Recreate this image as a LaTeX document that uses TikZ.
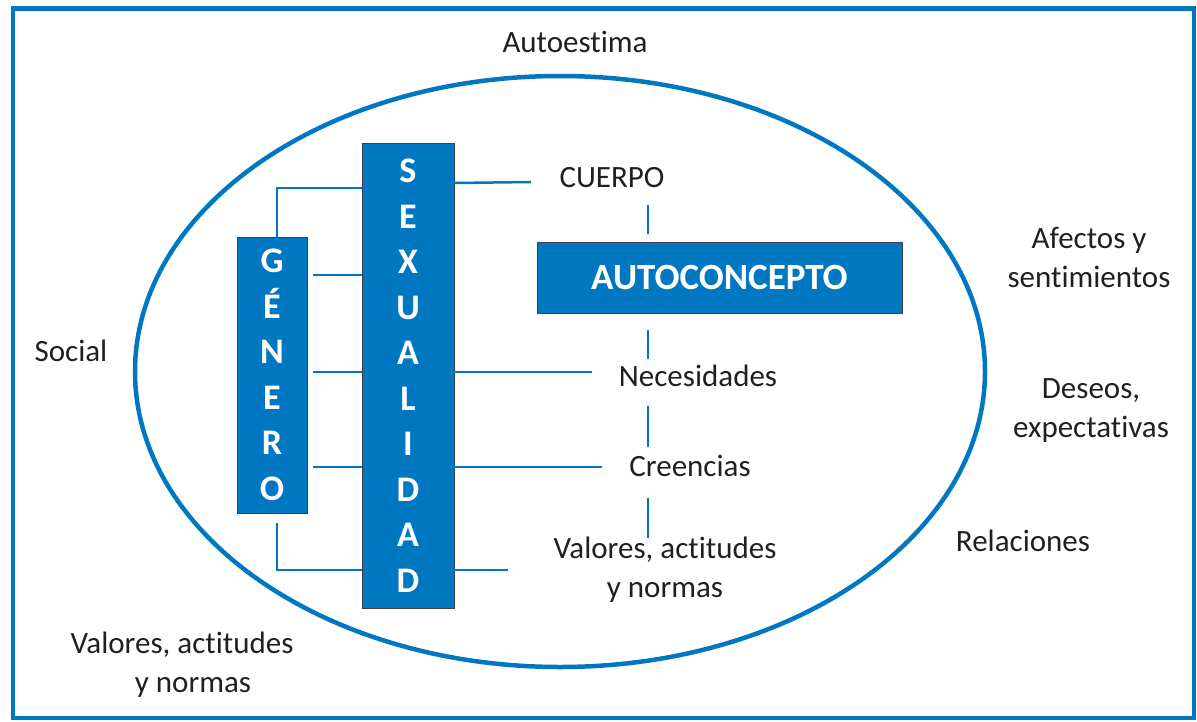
\documentclass[tikz,border=0pt]{standalone}
\usepackage{fontspec}
\setmainfont{Carlito}[Ligatures=NoCommon]
\usetikzlibrary{calc}
\definecolor{mblue}{RGB}{0,120,193}
\definecolor{ink}{RGB}{35,31,32}
\begin{document}
\begin{tikzpicture}[x=1pt,y=-1pt,
  conn/.style={draw=mblue,line width=2.5pt},
  vbox/.style={fill=mblue,draw=black!75,line width=0.8pt,inner sep=0pt,outer sep=0pt,text=white,align=center,font=\fontsize{36}{45.5}\selectfont\bfseries},
  lbl/.style={text=ink,font=\fontsize{31}{39}\selectfont,inner sep=0pt,align=center,anchor=base},
]
\useasboundingbox (0,0) rectangle (1197,721);
% frame and ellipse
\draw[mblue,line width=4.5pt] (13,8.5) rectangle (1194,718);
\draw[mblue,line width=4.5pt] (560,371.5) ellipse [x radius=425pt, y radius=295.5pt];

% boxes
\node[vbox,minimum width=70pt,minimum height=276pt] (gen) at (272,375) {G\\É\\N\\E\\R\\O};
\node[vbox,minimum width=92pt,minimum height=465pt] (sex) at (408,375.5) {S\\E\\X\\U\\A\\L\\I\\D\\A\\D};
\node[vbox,minimum width=365pt,minimum height=71pt,font=\fontsize{37}{44}\selectfont\bfseries] (autoc) at (719.5,277.5) {AUTOCONCEPTO};

% labels (multi-line nodes: base = last line)
\node[lbl] (autoest) at (575,52) {Autoestima};
\node[lbl] (cuerpo) at (612,187) {CUERPO};
\node[lbl] (afectos) at (1089,287) {Afectos y\\sentimientos};
\node[lbl] (social) at (71,361) {Social};
\node[lbl] (neces) at (698,386) {Necesidades};
\node[lbl] (deseos) at (1091,437) {Deseos,\\expectativas};
\node[lbl] (creen) at (690,476) {Creencias};
\node[lbl] (relac) at (1023,551) {Relaciones};
\node[lbl] (valR) at (665,597) {Valores, actitudes\\y normas};
\node[lbl] (valL) at (182,692) {Valores, actitudes\\\hspace*{22pt}y normas};

% free ends of connectors
\coordinate (gtop) at (277,237);
\coordinate (gbot) at (277,523);
\coordinate (cuerpoL) at (531,182);
\coordinate (g2) at (313,275);
\coordinate (g3) at (313,372);
\coordinate (g4) at (313,467);
\coordinate (necL) at (592,372);
\coordinate (creL) at (602,467);
\coordinate (valL1) at (508,570);
\coordinate (v1a) at (648,205); \coordinate (v1b) at (648,234);
\coordinate (v2a) at (648,330); \coordinate (v2b) at (648,359);
\coordinate (v3a) at (648,406); \coordinate (v3b) at (648,447);
\coordinate (v4a) at (648,498); \coordinate (v4b) at (648,538);

% connectors
\draw[conn] (gtop) |- (sex.west |- 0,188);
\draw[conn] (sex.east |- 0,183) -- (cuerpoL);
\draw[conn] (g2) -- (sex.west |- g2);
\draw[conn] (g3) -- (sex.west |- g3);
\draw[conn] (sex.east |- necL) -- (necL);
\draw[conn] (g4) -- (sex.west |- g4);
\draw[conn] (sex.east |- creL) -- (creL);
\draw[conn] (gbot) |- (sex.west |- valL1);
\draw[conn] (sex.east |- valL1) -- (valL1);
\draw[conn] (v1a) -- (v1b);
\draw[conn] (v2a) -- (v2b);
\draw[conn] (v3a) -- (v3b);
\draw[conn] (v4a) -- (v4b);
\end{tikzpicture}
\end{document}
